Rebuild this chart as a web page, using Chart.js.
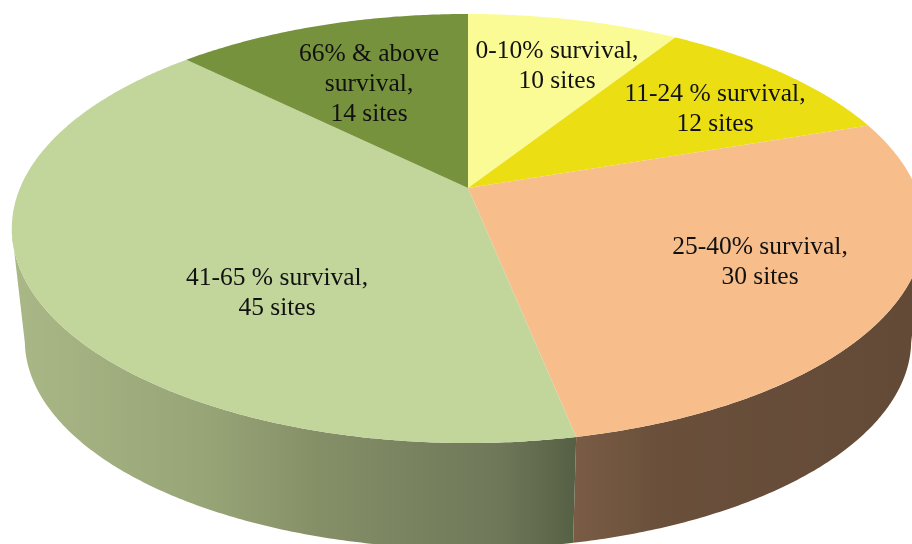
<!DOCTYPE html>
<html>
<head>
<meta charset="utf-8">
<title>Survival of sites</title>
<script src="https://cdn.jsdelivr.net/npm/chart.js@4"></script>
<style>
    html, body { margin: 0; padding: 0; background: #fff; overflow: hidden; }
    #chart { display: block; }
</style>
</head>
<body>
<canvas id="chart" width="912" height="544"></canvas>
<script>
const categoryLines = [
    ['0-10% survival,'],
    ['11-24 % survival,'],
    ['25-40% survival,'],
    ['41-65 % survival,'],
    ['66% & above', 'survival,']
];
const sites = [10, 12, 30, 45, 14];
const sliceColors = ['#FBFB96', '#EBDF14', '#F7BE8C', '#C2D59B', '#76923C'];

// wall shading runs left to right, [x position, colour]
const wallStops = [
    [],
    [],
    [[0.63, '#7A5C45'], [0.72, '#6A503B'], [1, '#634A37']],
    [[0.01, '#AAB787'], [0.22, '#98A677'], [0.35, '#858F67'], [0.55, '#6E7758'], [0.63, '#566044']],
    []
];

const labelSpots = [[557, 51], [715, 94], [760, 247], [277, 278], [369, 54]];
const lineGap = 30;

// tilted view of the flat pie: perspective pushes the apex up from the ellipse centre
const tilt = { dx: 12, dy: -84, stretchX: 1.647, stretchY: 0.7606, k: 0.1888 };
const wall = { drop: 113, shrink: 0.9715, edge: 0.2 };

function project(el, angle, isBottom) {
    const r = el.outerRadius;
    const d = 1 - tilt.k * Math.sin(angle);
    const s = isBottom ? wall.shrink : 1;
    return {
        x: el.x + tilt.dx + s * r * tilt.stretchX * Math.cos(angle) / d,
        y: el.y + tilt.dy + (isBottom ? wall.drop : 0) + s * r * tilt.stretchY * Math.sin(angle) / d
    };
}

// only the front of the rim shows, so keep the wall between the two silhouette angles
function wallRange(el) {
    const from = Math.max(el.startAngle, wall.edge);
    const to = Math.min(el.endAngle, Math.PI - wall.edge);
    return [from, to];
}

const tiltedPie = {
    id: 'tiltedPie',
    beforeDatasetDraw(chart, args) {
        const ctx = chart.ctx;
        const arcs = args.meta.data;
        const step = Math.PI / 360;

        // side wall first, the top face covers its upper edge
        arcs.forEach((el, i) => {
            if (!wallStops[i].length) return;
            const [from, to] = wallRange(el);
            if (to <= from) return;
            const grad = ctx.createLinearGradient(0, 0, chart.width, 0);
            wallStops[i].forEach(st => grad.addColorStop(st[0], st[1]));
            ctx.fillStyle = grad;
            ctx.beginPath();
            for (let a = from; a < to; a += step) {
                const p = project(el, a, false);
                ctx.lineTo(p.x, p.y);
            }
            const end = project(el, to, false);
            ctx.lineTo(end.x, end.y);
            for (let a = to; a > from; a -= step) {
                const p = project(el, a, true);
                ctx.lineTo(p.x, p.y);
            }
            const back = project(el, from, true);
            ctx.lineTo(back.x, back.y);
            ctx.closePath();
            ctx.fill();
        });

        arcs.forEach(el => {
            ctx.beginPath();
            ctx.moveTo(el.x + tilt.dx, el.y + tilt.dy);
            for (let a = el.startAngle; a < el.endAngle; a += step) {
                const p = project(el, a, false);
                ctx.lineTo(p.x, p.y);
            }
            const last = project(el, el.endAngle, false);
            ctx.lineTo(last.x, last.y);
            ctx.closePath();
            ctx.fillStyle = el.options.backgroundColor;
            ctx.fill();
        });
        return false;
    },
    afterDatasetsDraw(chart) {
        const ctx = chart.ctx;
        ctx.font = '25.5px "Liberation Serif", serif';
        ctx.fillStyle = '#111';
        ctx.textAlign = 'center';
        ctx.textBaseline = 'middle';
        sites.forEach((n, i) => {
            const lines = categoryLines[i].concat(n + ' sites');
            lines.forEach((txt, j) => {
                ctx.fillText(txt, labelSpots[i][0], labelSpots[i][1] + j * lineGap);
            });
        });
    }
};

new Chart(document.getElementById('chart'), {
    type: 'pie',
    data: {
        labels: categoryLines.map(l => l.join(' ')),
        datasets: [{
            data: sites,
            backgroundColor: sliceColors,
            borderWidth: 0
        }]
    },
    options: {
        responsive: false,
        animation: false,
        plugins: {
            legend: { display: false },
            tooltip: { enabled: false }
        }
    },
    plugins: [tiltedPie]
});
</script>
</body>
</html>
